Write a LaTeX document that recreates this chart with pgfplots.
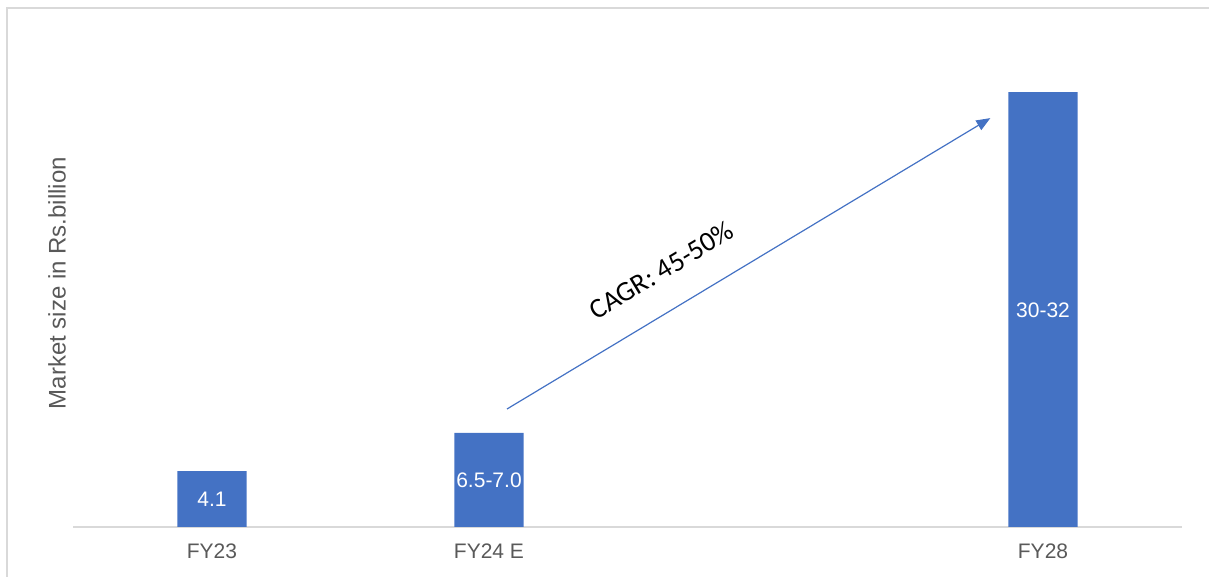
\documentclass[border=0pt]{standalone}
\usepackage{fontspec}
\setmainfont{Liberation Sans}
\newfontfamily\calibri{Carlito}
\usepackage{pgfplots}
\pgfplotsset{compat=1.18}
\usetikzlibrary{arrows.meta}

\definecolor{barblue}{HTML}{4472C4}
\definecolor{txtgray}{HTML}{595959}
\definecolor{linegray}{HTML}{D9D9D9}

\begin{document}
\begin{tikzpicture}
\begin{axis}[
    at={(0,0)}, anchor=south west,
    width=554pt, height=239pt, scale only axis,
    xmin=-0.5, xmax=3.5,
    ymin=0, ymax=35,
    axis x line=bottom,
    axis y line=left,
    x axis line style={-, draw=linegray, line width=0.9pt},
    y axis line style={draw=none},
    ytick=\empty,
    xtick={0,1,3},
    xticklabels={FY23, FY24 E, FY28},
    major tick length=0pt,
    xticklabel style={font=\fontsize{10.5}{12}\selectfont, text=txtgray, yshift=-5pt},
    ylabel={Market size in Rs.billion},
    ylabel style={at={(axis description cs:0,0.51)}, anchor=center, yshift=8.25pt,
        font=\fontsize{12}{14}\selectfont, text=txtgray},
    clip=false,
]
\addplot[ybar, bar width=34.6pt, fill=barblue, draw=none]
    coordinates {(0,4.1) (1,6.9) (3,31.85)};

\node[text=white, font=\fontsize{10.5}{12}\selectfont] at (axis cs:0,2.05) {4.1};
\node[text=white, font=\fontsize{10.5}{12}\selectfont] at (axis cs:1,3.45) {6.5-7.0};
\node[text=white, font=\fontsize{10.5}{12}\selectfont] at (axis cs:3,15.9) {30-32};

\draw[barblue, line width=0.6pt, -{Triangle[length=7pt,width=5.5pt]}]
    (axis cs:1.065,8.64) -- (axis cs:2.81,29.94);
\node[rotate=31, font=\calibri\fontsize{14}{16}\selectfont] at (axis cs:1.622,18.8) {CAGR: 45-50\%};
\end{axis}
\draw[linegray, line width=1pt] (-33.25pt,-25pt) -- (-33.25pt,259.25pt) -- (568pt,259.25pt);
\pgfresetboundingbox
\useasboundingbox (-36.75pt,-25pt) rectangle (567.75pt,263.5pt);
\end{tikzpicture}
\end{document}
